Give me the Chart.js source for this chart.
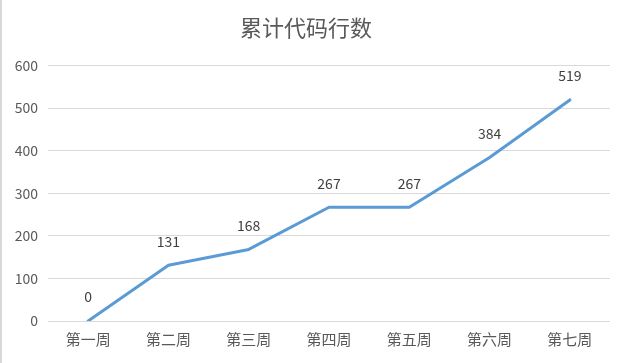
<!DOCTYPE html>
<html>
<head>
<meta charset="utf-8">
<script src="https://cdn.jsdelivr.net/npm/chart.js@4/dist/chart.umd.min.js"></script>
<style>
  html, body { margin: 0; padding: 0; background: #fff; }
  #wrap { position: relative; width: 626px; height: 363px; box-sizing: border-box; border-left: 2px solid #d9d9d9; }
</style>
</head>
<body>
<div id="wrap"><canvas id="grafico" width="624" height="363"></canvas></div>
<script>
// Dados do gráfico
const semanas = ['第一周', '第二周', '第三周', '第四周', '第五周', '第六周', '第七周'];
const linhasCodigo = [0, 131, 168, 267, 267, 384, 519];
const tituloGrafico = '累计代码行数';

// Plugin simples para desenhar os valores acima dos pontos
const rotulosValores = {
  id: 'rotulosValores',
  afterDatasetsDraw(chart) {
    const ctx = chart.ctx;
    const meta = chart.getDatasetMeta(0);
    ctx.save();
    ctx.font = '14px "Noto Sans CJK SC", sans-serif';
    ctx.fillStyle = '#404040';
    ctx.textAlign = 'center';
    ctx.textBaseline = 'middle';
    meta.data.forEach((pt, i) => {
      ctx.fillText(String(linhasCodigo[i]), pt.x, pt.y - 24);
    });
    ctx.restore();
  }
};

const ctx = document.getElementById('grafico').getContext('2d');
new Chart(ctx, {
  type: 'line',
  data: {
    labels: semanas,
    datasets: [{
      data: linhasCodigo,
      borderColor: '#5B9BD5',
      borderWidth: 3,
      pointRadius: 0,
      tension: 0,
      borderCapStyle: 'round',
      borderJoinStyle: 'round'
    }]
  },
  options: {
    responsive: false,
    animation: false,
    layout: { padding: { left: 0, right: 16, top: 0, bottom: 0 } },
    plugins: {
      legend: { display: false },
      tooltip: { enabled: false },
      title: {
        display: true,
        text: tituloGrafico,
        color: '#595959',
        font: { family: '"Noto Sans CJK SC", sans-serif', size: 22, weight: 'normal' },
        padding: { top: 14, bottom: 25 }
      }
    },
    scales: {
      x: {
        offset: true,
        grid: { display: false, drawTicks: false },
        border: { display: false },
        ticks: {
          color: '#595959',
          font: { family: '"Noto Sans CJK SC", sans-serif', size: 15 },
          padding: 9,
          maxRotation: 0
        },
        afterFit(scale) { scale.height = 42; }
      },
      y: {
        min: 0,
        max: 600,
        ticks: {
          stepSize: 100,
          color: '#595959',
          font: { family: '"Noto Sans CJK SC", sans-serif', size: 14 },
          padding: 10
        },
        grid: { color: '#d9d9d9', drawTicks: false },
        border: { display: false },
        afterFit(scale) { scale.width = 46; }
      }
    }
  },
  plugins: [rotulosValores]
});
</script>
</body>
</html>
